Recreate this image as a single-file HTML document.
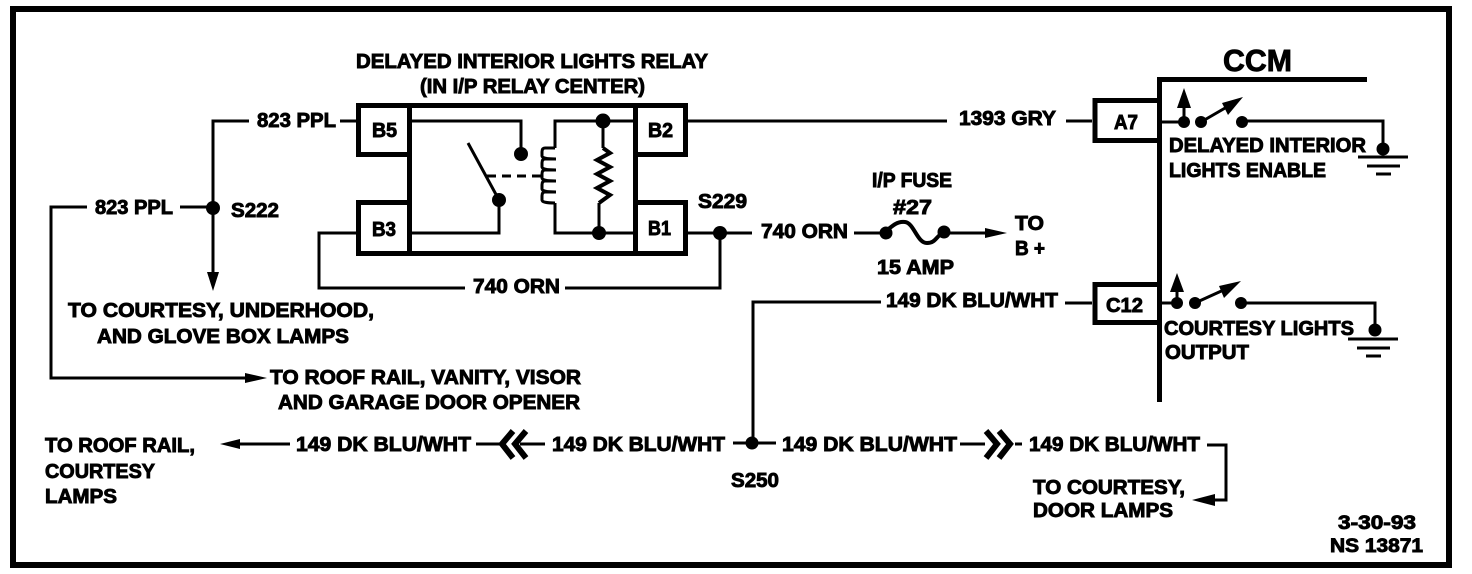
<!DOCTYPE html>
<html><head><meta charset="utf-8"><style>
html,body{margin:0;padding:0;background:#fff;width:1472px;height:574px;overflow:hidden}
svg{display:block}
text{font-family:"Liberation Sans",sans-serif;font-weight:bold;font-size:20px;fill:#000;stroke:#000;stroke-width:.9px}
.s{font-size:19px}
</style></head><body>
<svg width="1472" height="574" viewBox="0 0 1472 574" xmlns="http://www.w3.org/2000/svg">
<rect width="1472" height="574" fill="#fff"/>
<rect x="13" y="9" width="1436" height="556" fill="none" stroke="#000" stroke-width="6"/>
<g fill="none" stroke="#000" stroke-width="5">
<path d="M356 105.500H688M356 253.500H688"/>
<path d="M358.500 103V157M358.500 200V256M685.500 103V157M685.500 200V256"/>
<path d="M409.500 103V256M635.500 103V256M356 154.500H410M635 154.500H688M356 202.500H410M635 202.500H688"/>
<path d="M1159.500 402V79.500H1367" />
<path d="M1159 100.500H1095V140.500H1159M1159 284.500H1095V322.500H1159"/>
</g>
<g fill="none" stroke="#000" stroke-width="3">
<path d="M340 121H356M412 121H521V154"/>
<path d="M249 121H213V275"/>
<path d="M87 207H51V378H250M180 207H213"/>
<path d="M555 148V121H633M603 121V148"/>
<path d="M555 203V233H633M599 203V233"/>
<path d="M412 233H499V200"/>
<path d="M468 143L499 200" />
<path d="M487 176H543" stroke-dasharray="9 6"/>
<path d="M555 148H545Q542 148 542 152V156Q542 159 556 159H545Q542 159 542 163V167Q542 170 556 170H545Q542 170 542 174V178Q542 181 556 181H545Q542 181 542 185V189Q542 192 556 192H545Q542 192 542 196V200Q542 203 555 203"/>
<path d="M603 148L610 153L597 160L610 167L597 174L610 181L597 188L610 195L599 203" stroke-width="4"/>
<path d="M356 233H319V288H465M565 288H720V233M688 233H752"/>
<path d="M854 233H884M944 233H990"/>
<path d="M884 233C892 226 897 221 905 222C914 223 917 243 927 243C936 243 936 236 944 232" stroke-width="4"/>
<path d="M688 121H947M1066 121H1092"/>
<path d="M1162 122H1184M1201 122L1232 104M1242 121H1383V148"/>
<path d="M1358 157H1408M1367 166H1400M1376 174H1391"/>
<path d="M1065 303H1092M881 302H753V445"/>
<path d="M1162 303H1177M1195 303L1228 288M1241 303H1375V330"/>
<path d="M1348 339H1398M1357 348H1390M1366 356H1381"/>
<path d="M235 444H290M476 444H500M520 444H545M733 443H776M960 444H985M1015 444H1022"/>
<path d="M1207 445H1226V500H1210"/>
<path d="M1184 122V105M1177 303V290"/>
</g>
<g fill="none" stroke="#000" stroke-width="6">
<path d="M513 431L502 444L513 458M526 431L515 444L526 458"/>
<path d="M986 431L997 444L986 458M999 431L1010 444L999 458"/>
</g>
<g fill="#000">
<circle cx="521" cy="154" r="7"/><circle cx="603" cy="121" r="7.500"/><circle cx="599" cy="233" r="7"/><circle cx="499" cy="200" r="7"/>
<circle cx="213" cy="208" r="7"/><circle cx="720" cy="233" r="7"/><circle cx="886" cy="233" r="6.500"/><circle cx="944" cy="232" r="6.500"/>
<circle cx="752" cy="443" r="6.500"/>
<circle cx="1184" cy="122" r="6"/><circle cx="1201" cy="122" r="6"/><circle cx="1242" cy="122" r="6"/><circle cx="1383" cy="149" r="6.500"/>
<circle cx="1177" cy="303" r="6"/><circle cx="1195" cy="303" r="6"/><circle cx="1241" cy="303" r="6"/><circle cx="1375" cy="330" r="6.500"/>
<path d="M207 272H219L213 291Z"/>
<path d="M245 373L267 378L245 383Z"/>
<path d="M985 228L1007 233L985 238Z"/>
<path d="M220 444L240 439V449Z"/>
<path d="M1192 500L1215 494V506Z"/>
<path d="M1184 88L1191 108H1177Z"/>
<path d="M1177 273L1184 292H1170Z"/>
<path d="M1243 97L1228 115L1222 103Z"/>
<path d="M1241 281L1224 298L1219 286Z"/>
</g>
<text x="356" y="68" textLength="352" lengthAdjust="spacingAndGlyphs">DELAYED INTERIOR LIGHTS RELAY</text>
<text x="420" y="93" textLength="225" lengthAdjust="spacingAndGlyphs">(IN I/P RELAY CENTER)</text>
<text x="257" y="127" textLength="79" lengthAdjust="spacingAndGlyphs">823 PPL</text>
<text x="95" y="214" textLength="78" lengthAdjust="spacingAndGlyphs">823 PPL</text>
<text x="231" y="217" textLength="48" lengthAdjust="spacingAndGlyphs">S222</text>
<text x="68" y="317" textLength="306" lengthAdjust="spacingAndGlyphs">TO COURTESY, UNDERHOOD,</text>
<text x="97" y="343" textLength="252" lengthAdjust="spacingAndGlyphs">AND GLOVE BOX LAMPS</text>
<text x="270" y="384" textLength="311" lengthAdjust="spacingAndGlyphs">TO ROOF RAIL, VANITY, VISOR</text>
<text x="278" y="409" textLength="302" lengthAdjust="spacingAndGlyphs">AND GARAGE DOOR OPENER</text>
<text x="45" y="452" textLength="150" lengthAdjust="spacingAndGlyphs">TO ROOF RAIL,</text>
<text x="45" y="478" textLength="110" lengthAdjust="spacingAndGlyphs">COURTESY</text>
<text x="45" y="503" textLength="72" lengthAdjust="spacingAndGlyphs">LAMPS</text>
<text x="296" y="451" textLength="175" lengthAdjust="spacingAndGlyphs">149 DK BLU/WHT</text>
<text x="552" y="451" textLength="173" lengthAdjust="spacingAndGlyphs">149 DK BLU/WHT</text>
<text x="782" y="451" textLength="175" lengthAdjust="spacingAndGlyphs">149 DK BLU/WHT</text>
<text x="1029" y="451" textLength="171" lengthAdjust="spacingAndGlyphs">149 DK BLU/WHT</text>
<text x="731" y="487" textLength="48" lengthAdjust="spacingAndGlyphs">S250</text>
<text x="1033" y="494" textLength="152" lengthAdjust="spacingAndGlyphs">TO COURTESY,</text>
<text x="1033" y="517" textLength="140" lengthAdjust="spacingAndGlyphs">DOOR LAMPS</text>
<text class="s" x="1338" y="529" textLength="78" lengthAdjust="spacingAndGlyphs">3-30-93</text>
<text class="s" x="1330" y="552" textLength="93" lengthAdjust="spacingAndGlyphs">NS 13871</text>
<text x="473" y="293" textLength="87" lengthAdjust="spacingAndGlyphs">740 ORN</text>
<text x="698" y="208" textLength="49" lengthAdjust="spacingAndGlyphs">S229</text>
<text x="372" y="137" textLength="25" lengthAdjust="spacingAndGlyphs">B5</text>
<text x="372" y="236" textLength="24" lengthAdjust="spacingAndGlyphs">B3</text>
<text x="648" y="137" textLength="25" lengthAdjust="spacingAndGlyphs">B2</text>
<text x="648" y="235" textLength="23" lengthAdjust="spacingAndGlyphs">B1</text>
<text x="959" y="125" textLength="97" lengthAdjust="spacingAndGlyphs">1393 GRY</text>
<text x="1114" y="129" textLength="24" lengthAdjust="spacingAndGlyphs">A7</text>
<text x="1223" y="71" textLength="69" lengthAdjust="spacingAndGlyphs" style="font-size:31px">CCM</text>
<text x="1169" y="152" textLength="197" lengthAdjust="spacingAndGlyphs">DELAYED INTERIOR</text>
<text x="1169" y="177" textLength="157" lengthAdjust="spacingAndGlyphs">LIGHTS ENABLE</text>
<text x="1106" y="312" textLength="37" lengthAdjust="spacingAndGlyphs">C12</text>
<text x="1164" y="335" textLength="190" lengthAdjust="spacingAndGlyphs">COURTESY LIGHTS</text>
<text x="1165" y="359" textLength="84" lengthAdjust="spacingAndGlyphs">OUTPUT</text>
<text x="872" y="187" textLength="80" lengthAdjust="spacingAndGlyphs">I/P FUSE</text>
<text x="893" y="214" textLength="39" lengthAdjust="spacingAndGlyphs">#27</text>
<text x="761" y="238" textLength="87" lengthAdjust="spacingAndGlyphs">740 ORN</text>
<text x="877" y="274" textLength="77" lengthAdjust="spacingAndGlyphs">15 AMP</text>
<text x="1015" y="230" textLength="29" lengthAdjust="spacingAndGlyphs">TO</text>
<text x="1015" y="255" textLength="30" lengthAdjust="spacingAndGlyphs">B +</text>
<text x="886" y="307" textLength="172" lengthAdjust="spacingAndGlyphs">149 DK BLU/WHT</text>
</svg>
</body></html>
